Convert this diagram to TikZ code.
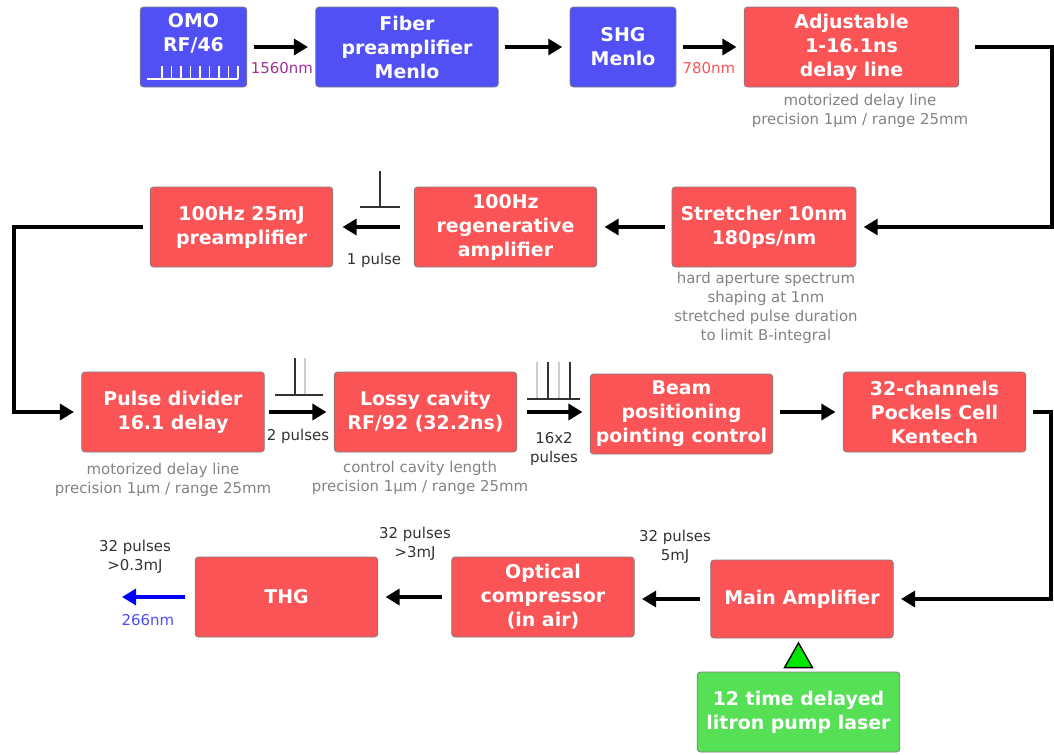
\documentclass[tikz,border=0pt]{standalone}
\usepackage{fontspec}
\setmainfont{DejaVu Sans}
\usetikzlibrary{arrows.meta,calc}

\definecolor{boxblue}{RGB}{80,80,245}
\definecolor{boxred}{RGB}{250,84,86}
\definecolor{boxgreen}{RGB}{85,224,85}
\definecolor{trigreen}{RGB}{0,230,0}
\definecolor{notegray}{RGB}{130,130,130}
\definecolor{labdark}{RGB}{50,50,50}
\definecolor{nmpurple}{RGB}{160,48,150}

\tikzset{
  box/.style={draw=gray, line width=0.6pt, rounded corners=2.5pt, text=white,
    font=\bfseries\fontsize{14.2}{18}\selectfont, align=center,
    minimum width=137pt, minimum height=60pt, inner sep=0pt},
  flow/.style={-{Triangle[length=10.5pt,width=12pt]}, line width=2.4pt,
    shorten <=5pt, shorten >=5.5pt},
  note/.style={text=notegray, font=\fontsize{11.2}{14.2}\selectfont, align=center, inner sep=0pt},
  lab/.style={text=labdark, font=\fontsize{11.2}{14.2}\selectfont, align=center, inner sep=0pt},
  pulse/.style={line width=1.6pt, draw=labdark},
  ghost/.style={line width=1.6pt, draw=gray!40}
}

\begin{document}
\begin{tikzpicture}[x=0.75pt,y=0.75pt,yscale=-1,xscale=1]
\useasboundingbox (0,0) rectangle (1054,754);

% first row
\node[box, fill=boxblue, minimum width=80pt] (omo) at (193.5,47) {};
\node[box, draw=none] (omotxt) at (193.5,33) {OMO\\RF/46};
\draw[white, line width=1.3pt] (147,79) -- (238,79);
\foreach \i in {0,...,8}
  \draw[white, line width=1.3pt] (162+9.5*\i,79) -- (162+9.5*\i,66);
\node[box, fill=boxblue] (fiber) at (407,47) {Fiber\\preamplifier\\Menlo};
\node[box, fill=boxblue, minimum width=79.5pt] (shg) at (623,47) {SHG\\Menlo};
\node[box, fill=boxred, minimum width=161pt] (adj) at (851.5,47) {Adjustable\\1-16.1ns\\delay line};

\draw[flow] (omo) -- (fiber);
\draw[flow] (fiber) -- (shg);
\draw[flow] (shg) -- (adj);
\node[lab, text=nmpurple] (l1560) at (282,68) {1560nm};
\node[lab, text=boxred] (l780) at (709,68) {780nm};
\node[note] (n1) at (860,111) {motorized delay line\\precision 1µm / range 25mm};

% second row
\node[box, fill=boxred, minimum width=138pt] (stretch) at (764,227) {Stretcher 10nm\\180ps/nm};
\node[box, fill=boxred] (regen) at (505.5,227) {100Hz\\regenerative\\amplifier};
\node[box, fill=boxred] (pre) at (241.5,227) {100Hz 25mJ\\preamplifier};

\coordinate (rightA) at (1052,47);
\draw[flow, shorten <=12pt] (adj.east) -- (rightA) |- (stretch.east);
\draw[flow] (stretch) -- (regen);
\draw[flow, shorten <=10pt, shorten >=7pt] (regen) -- (pre);
\node[note] (n2) at (766,308) {hard aperture spectrum\\shaping at 1nm\\stretched pulse duration\\to limit B-integral};
\node[lab] (l1p) at (374,260) {1 pulse};
\draw[pulse] (360,207) -- (400,207) (380,207) -- (380,171);

% third row
\node[box, fill=boxred] (div) at (173,412) {Pulse divider\\16.1 delay};
\node[box, fill=boxred] (lossy) at (425.5,412) {Lossy cavity\\RF/92 (32.2ns)};
\node[box, fill=boxred] (beam) at (681.5,414) {Beam\\positioning\\pointing control};
\node[box, fill=boxred] (pock) at (934.5,412) {32-channels\\Pockels Cell\\Kentech};

\coordinate (leftA) at (14,227);
\draw[flow] (pre.west) -- (leftA) |- (div.west);
\draw[flow, shorten <=3pt] (div) -- (lossy);
\draw[flow, shorten <=7pt] (lossy.east) -- (lossy.east -| beam.west);
\draw[flow] (pock.west -| beam.east) -- (pock.west);
\node[lab] (l2p) at (298,436) {2 pulses};
\draw[ghost] (305,395) -- (305,358);
\draw[pulse] (275,395) -- (323,395) (295,395) -- (295,358);
\node[lab] (l16) at (554,449) {16x2\\pulses};
\draw[ghost] (537,399) -- (537,362) (559,399) -- (559,362);
\draw[pulse] (527,399) -- (580,399) (548,399) -- (548,362) (570,399) -- (570,362);
\node[note] (n3) at (163,480) {motorized delay line\\precision 1µm / range 25mm};
\node[note] (n4) at (420,478) {control cavity length\\precision 1µm / range 25mm};

% fourth row
\node[box, fill=boxred, minimum height=58.5pt] (main) at (802,599) {Main Amplifier};
\node[box, fill=boxred] (comp) at (543,597) {Optical\\compressor\\(in air)};
\node[box, fill=boxred] (thg) at (286.5,597) {THG};
\node[box, fill=boxgreen, minimum width=152pt] (pump) at (798.5,712) {12 time delayed\\litron pump laser};
\coordinate (out) at (122,597);

\coordinate (rightB) at (1051,412);
\draw[flow] (pock.east) -- (rightB) |- (main.east);
\draw[flow, shorten <=8pt] (main.west) -- (main.west -| comp.east);
\draw[flow, shorten <=7pt] (comp) -- (thg);
\draw[flow, draw=blue, fill=blue, shorten <=7pt, shorten >=0pt] (thg.west) -- (out);
\draw[line width=1pt, fill=trigreen]
  ([xshift=-10.5pt,yshift=-3pt]pump.north) -- ([xshift=10.5pt,yshift=-3pt]pump.north)
  -- ([yshift=-21.5pt]pump.north) -- cycle;
\node[lab] (l5) at (675,547) {32 pulses\\5mJ};
\node[lab] (l3) at (415,544) {32 pulses\\>3mJ};
\node[lab] (l03) at (135,557) {32 pulses\\>0.3mJ};
\node[lab, text=blue!70!white] (l266) at (148,620) {266nm};

\end{tikzpicture}
\end{document}
